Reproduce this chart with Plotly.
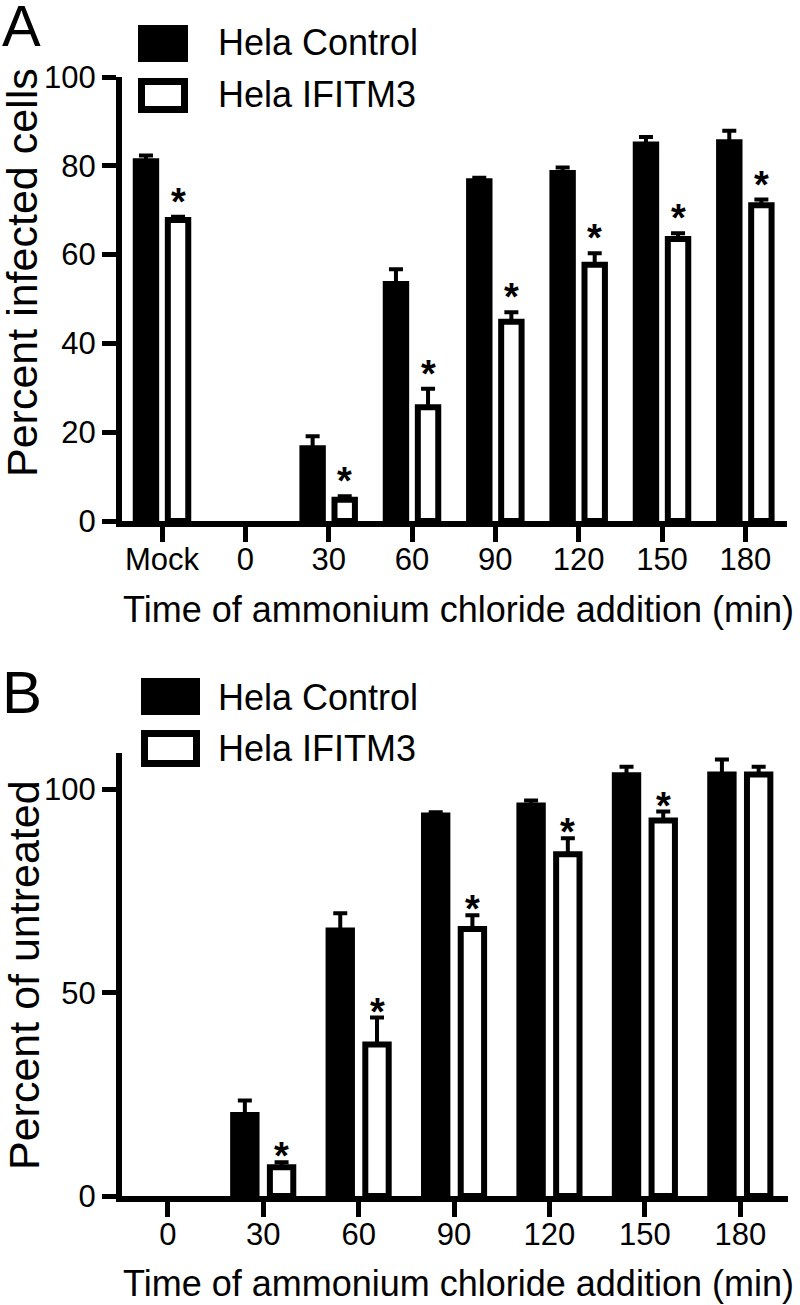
import plotly.graph_objects as go

# ---------------- data ----------------
cats_a = ["Mock", "0", "30", "60", "90", "120", "150", "180"]
ctrl_a = [81.0, 0, 16.4, 53.4, 76.5, 78.4, 84.8, 85.3]
ctrl_a_err = [1.3, 0, 2.7, 3.3, 0.8, 1.2, 1.7, 2.6]
ifitm_a = [67.8, 0, 4.8, 25.6, 44.9, 57.7, 63.5, 71.1]
ifitm_a_err = [0.7, 0, 0.8, 4.2, 2.1, 2.6, 1.3, 1.3]
sig_a = [True, False, True, True, True, True, True, True]

cats_b = ["0", "30", "60", "90", "120", "150", "180"]
ctrl_b = [0, 19.9, 65.3, 93.6, 96.1, 103.5, 103.7]
ctrl_b_err = [0, 3.6, 4.3, 0.8, 1.2, 2.1, 3.7]
ifitm_b = [0, 7.1, 37.3, 65.7, 84.1, 92.4, 103.7]
ifitm_b_err = [0, 1.2, 6.6, 3.4, 3.9, 2.2, 1.9]
sig_b = [False, True, True, True, True, True, False]

series_names = ["Hela Control", "Hela IFITM3"]
ytitle_a = "Percent infected cells"
ytitle_b = "Percent of untreated"
xtitle = "Time of ammonium chloride addition (min)"

# ---------------- helpers ----------------
W, H = 800, 1305
FONT = "Arial, Liberation Sans, sans-serif"


def px(x):
    return x / W


def py(y):
    return 1 - y / H


BW = 0.245      # bar width (axis units)
OFF_C = -0.315  # control offset
OFF_I = 0.07    # IFITM3 offset
LW = 6

fig = go.Figure()


def nz(vals):
    # zero-height bars are not drawn (the outline would show as a stub)
    return [v if v > 0 else None for v in vals]


def add_panel(cats, ctrl, cerr, ifi, ierr, xa, ya):
    xs = list(range(len(cats)))
    fig.add_trace(go.Bar(
        x=xs, y=nz(ctrl), width=BW, offset=OFF_C, xaxis=xa, yaxis=ya,
        marker=dict(color="black", line=dict(color="black", width=LW)),
        error_y=dict(type="data", array=cerr, arrayminus=[0] * len(cerr),
                     symmetric=False, color="black", thickness=4, width=7),
        showlegend=False, name=series_names[0]))
    fig.add_trace(go.Bar(
        x=xs, y=nz(ifi), width=BW, offset=OFF_I, xaxis=xa, yaxis=ya,
        marker=dict(color="white", line=dict(color="black", width=LW)),
        error_y=dict(type="data", array=ierr, arrayminus=[0] * len(ierr),
                     symmetric=False, color="black", thickness=4, width=7),
        showlegend=False, name=series_names[1]))


add_panel(cats_a, ctrl_a, ctrl_a_err, ifitm_a, ifitm_a_err, "x", "y")
add_panel(cats_b, ctrl_b, ctrl_b_err, ifitm_b, ifitm_b_err, "x2", "y2")

annotations = []
shapes = []


# significance asterisks
def add_stars(vals, errs, sig, xref, yref, shift):
    for i, (v, e, s) in enumerate(zip(vals, errs, sig)):
        if s:
            annotations.append(dict(
                x=i + OFF_I + BW / 2, y=v + e, xref=xref, yref=yref,
                text="<b>*</b>", showarrow=False, yanchor="middle",
                yshift=shift,
                font=dict(family=FONT, size=38, color="black")))


add_stars(ifitm_a, ifitm_a_err, sig_a, "x", "y", 15)
add_stars(ifitm_b, ifitm_b_err, sig_b, "x2", "y2", 6)

axis_common = dict(showline=True, linecolor="black", linewidth=LW,
                   ticks="outside", tickcolor="black", tickwidth=5,
                   showgrid=False, zeroline=False, fixedrange=True,
                   automargin=False,
                   tickfont=dict(family=FONT, size=31, color="black"))

fig.update_layout(
    width=W, height=H, margin=dict(l=0, r=0, t=0, b=0, pad=0),
    paper_bgcolor="white", plot_bgcolor="white",
    barmode="overlay", showlegend=False,
    xaxis=dict(domain=[px(122), px(787)], range=[-0.48, 7.5], anchor="y",
               tickvals=list(range(len(cats_a))), ticktext=cats_a,
               ticklen=15, ticklabelstandoff=-9, **axis_common),
    yaxis=dict(domain=[py(521), py(77)], range=[0, 100], anchor="x",
               tickvals=[0, 20, 40, 60, 80, 100], ticklen=14, **axis_common),
    xaxis2=dict(domain=[px(122), px(788)], range=[-0.48, 6.5], anchor="y2",
                tickvals=list(range(len(cats_b))), ticktext=cats_b,
                ticklen=15, ticklabelstandoff=-9, **axis_common),
    yaxis2=dict(domain=[py(1196), py(753)], range=[0, 109], anchor="x2",
                tickvals=[0, 50, 100], ticklen=14, **axis_common),
)

# axis titles
annotations += [
    dict(x=px(22), y=py(273), xref="paper", yref="paper", text=ytitle_a,
         textangle=-90, showarrow=False, xanchor="center", yanchor="middle",
         font=dict(family=FONT, size=43, color="black")),
    dict(x=px(24), y=py(975), xref="paper", yref="paper", text=ytitle_b,
         textangle=-90, showarrow=False, xanchor="center", yanchor="middle",
         font=dict(family=FONT, size=43, color="black")),
    dict(x=px(458), y=py(610), xref="paper", yref="paper", text=xtitle,
         showarrow=False, xanchor="center", yanchor="middle",
         font=dict(family=FONT, size=36, color="black")),
    dict(x=px(458), y=py(1283), xref="paper", yref="paper", text=xtitle,
         showarrow=False, xanchor="center", yanchor="middle",
         font=dict(family=FONT, size=36, color="black")),
    # panel letters
    dict(x=px(0), y=py(26), xref="paper", yref="paper", text="A",
         showarrow=False, xanchor="left", yanchor="middle",
         font=dict(family=FONT, size=58, color="black")),
    dict(x=px(0), y=py(693), xref="paper", yref="paper", text="B",
         showarrow=False, xanchor="left", yanchor="middle",
         font=dict(family=FONT, size=60, color="black")),
]


# legends (manual, large swatches)
def add_legend(x0, x1, rows):
    for (y0, y1, ty), name, filled in zip(rows, series_names, [True, False]):
        if filled:
            shapes.append(dict(type="rect", xref="paper", yref="paper",
                               x0=px(x0), x1=px(x1), y0=py(y1), y1=py(y0),
                               fillcolor="black", line=dict(width=0)))
        else:
            shapes.append(dict(type="rect", xref="paper", yref="paper",
                               x0=px(x0 + 3.5), x1=px(x1 - 3.5),
                               y0=py(y1 - 3.5), y1=py(y0 + 3.5),
                               fillcolor="white",
                               line=dict(color="black", width=7)))
        annotations.append(dict(x=px(216), y=py(ty), xref="paper",
                                yref="paper", text=name, showarrow=False,
                                xanchor="left", yanchor="middle",
                                font=dict(family=FONT, size=36,
                                          color="black")))


add_legend(138, 188, [(25, 62, 43), (78, 113, 95)])
add_legend(141, 200, [(678, 715, 697), (730, 767, 748)])

fig.update_layout(annotations=annotations, shapes=shapes)
fig.write_html(
    "out.html",
    config={"displayModeBar": False},
    post_script="document.body.style.margin='0';"
                "document.body.style.padding='0';"
                "document.body.style.overflow='hidden';")
